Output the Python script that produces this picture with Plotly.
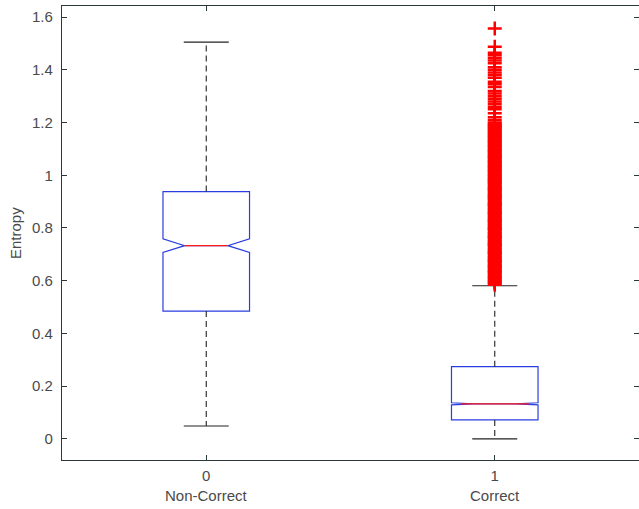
import plotly.graph_objects as go

# ---- data ----
positions = [0, 1]
tick_labels = ["0", "1"]
group_names = ["Non-Correct", "Correct"]
q1 = [0.485, 0.072]
median = [0.733, 0.133]
q3 = [0.938, 0.274]
lower_whisker = [0.049, 0.0]
upper_whisker = [1.505, 0.581]
notch_span = [0.026, 0.004]
median_halfwidth = [0.075, 0.118]

outliers_correct = [
    0.585, 0.59, 0.595, 0.60, 0.605, 0.61, 0.615, 0.62, 0.626, 0.632, 0.636, 0.64,
    0.646, 0.651, 0.656, 0.66, 0.666, 0.672, 0.676, 0.68, 0.685, 0.69, 0.696,
    0.702, 0.706, 0.71, 0.715, 0.72, 0.726, 0.733, 0.736, 0.74, 0.745, 0.75,
    0.756, 0.762, 0.766, 0.77, 0.775, 0.78, 0.786, 0.792, 0.796, 0.80, 0.805,
    0.81, 0.816, 0.822, 0.826, 0.83, 0.835, 0.84, 0.846, 0.852, 0.856, 0.86,
    0.865, 0.87, 0.876, 0.882, 0.886, 0.89, 0.895, 0.90, 0.906, 0.912, 0.916,
    0.92, 0.925, 0.93, 0.936, 0.942, 0.946, 0.95, 0.955, 0.96, 0.966, 0.972,
    0.976, 0.98, 0.985, 0.99, 0.995, 1.0, 1.005, 1.01, 1.015, 1.02, 1.026, 1.03,
    1.035, 1.04, 1.046, 1.05, 1.055, 1.06, 1.066, 1.07, 1.075, 1.08, 1.086,
    1.09, 1.095, 1.10, 1.106, 1.11, 1.116, 1.12, 1.126, 1.13, 1.136, 1.14,
    1.146, 1.15, 1.156, 1.16, 1.166, 1.17, 1.176, 1.18, 1.186, 1.19, 1.196,
    1.20, 1.21, 1.22, 1.235, 1.25, 1.26, 1.27, 1.28, 1.29, 1.30,
    1.31, 1.32, 1.335, 1.345, 1.355, 1.37, 1.38, 1.39, 1.40, 1.41, 1.425,
    1.435, 1.445, 1.455, 1.465, 1.487, 1.557,
]

y_ticks = [0, 0.2, 0.4, 0.6, 0.8, 1.0, 1.2, 1.4, 1.6]
y_tick_text = ["0", "0.2", "0.4", "0.6", "0.8", "1", "1.2", "1.4", "1.6"]

# ---- style ----
BOX_COLOR = "#2a3de0"
MED_COLOR = "#ff1a1a"
AX_COLOR = "#2a3a3a"
TXT_COLOR = "#4a4a4a"
FONT = "Liberation Sans, Arial, sans-serif"
BOX_W = 0.3
CAP_HALF = 0.078

fig = go.Figure()

# dashed whiskers
for i, p in enumerate(positions):
    fig.add_trace(go.Scatter(
        x=[p, p, None, p, p],
        y=[q3[i], upper_whisker[i], None, q1[i], lower_whisker[i]],
        mode="lines", line=dict(color="#222222", width=1.1, dash="6px,4px"),
        hoverinfo="skip", showlegend=False))
    # caps
    fig.add_trace(go.Scatter(
        x=[p - CAP_HALF, p + CAP_HALF, None, p - CAP_HALF, p + CAP_HALF],
        y=[upper_whisker[i], upper_whisker[i], None, lower_whisker[i], lower_whisker[i]],
        mode="lines", line=dict(color="#222222", width=1.1),
        hoverinfo="skip", showlegend=False))

# notched boxes
fig.add_trace(go.Box(
    x=positions, q1=q1, median=median, q3=q3,
    lowerfence=q1, upperfence=q3, notchspan=notch_span,
    notched=True, notchwidth=0.25, width=BOX_W, whiskerwidth=0,
    boxpoints=False, fillcolor="rgba(255,255,255,0)",
    line=dict(color=BOX_COLOR, width=1.2), showlegend=False))

# red medians
for i, p in enumerate(positions):
    fig.add_trace(go.Scatter(
        x=[p - median_halfwidth[i], p + median_halfwidth[i]],
        y=[median[i], median[i]],
        mode="lines", line=dict(color=MED_COLOR, width=1.2),
        hoverinfo="skip", showlegend=False))

# outliers
fig.add_trace(go.Scatter(
    x=[positions[1]] * len(outliers_correct), y=outliers_correct,
    mode="markers",
    marker=dict(symbol="cross-thin", size=10, line=dict(color="#ff0000", width=2.5)),
    showlegend=False))

# dummy trace for right-side mirrored ticks
fig.add_trace(go.Scatter(x=[None], y=[None], yaxis="y2", showlegend=False))

y_range = [-0.08, 1.642]

fig.update_layout(
    width=639, height=509,
    margin=dict(l=62, r=0, t=6, b=49),
    paper_bgcolor="white", plot_bgcolor="white",
    font=dict(family=FONT, size=15, color=TXT_COLOR),
    xaxis=dict(range=[-0.5, 1.5], tickvals=positions, ticktext=tick_labels,
               ticks="inside", ticklen=5, tickcolor=AX_COLOR, tickwidth=1,
               showline=True, linecolor=AX_COLOR, linewidth=1.2, mirror="ticks",
               showgrid=False, zeroline=False, ticklabelstandoff=2),
    yaxis=dict(range=y_range, tickvals=y_ticks, ticktext=y_tick_text,
               ticks="inside", ticklen=5, tickcolor=AX_COLOR, tickwidth=1,
               showline=True, linecolor=AX_COLOR, linewidth=1.2, mirror=False,
               showgrid=False, zeroline=False, ticklabelstandoff=5),
    yaxis2=dict(range=y_range, overlaying="y", side="right", tickvals=y_ticks,
                ticks="inside", ticklen=5, tickcolor=AX_COLOR, tickwidth=1,
                showticklabels=False, showline=False, showgrid=False, zeroline=False),
)

# category names under the tick labels
for p, name in zip(positions, group_names):
    fig.add_annotation(x=p, y=-35 / 454, xref="x", yref="paper", text=name,
                       showarrow=False, xanchor="center", yanchor="middle",
                       font=dict(family=FONT, size=15, color=TXT_COLOR))

# y-axis title
fig.add_annotation(x=(15 - 62) / 577, y=0.5, xref="paper", yref="paper",
                   text="Entropy", textangle=-90, showarrow=False,
                   xanchor="center", yanchor="middle",
                   font=dict(family=FONT, size=15, color=TXT_COLOR))

fig.write_html("out.html")
